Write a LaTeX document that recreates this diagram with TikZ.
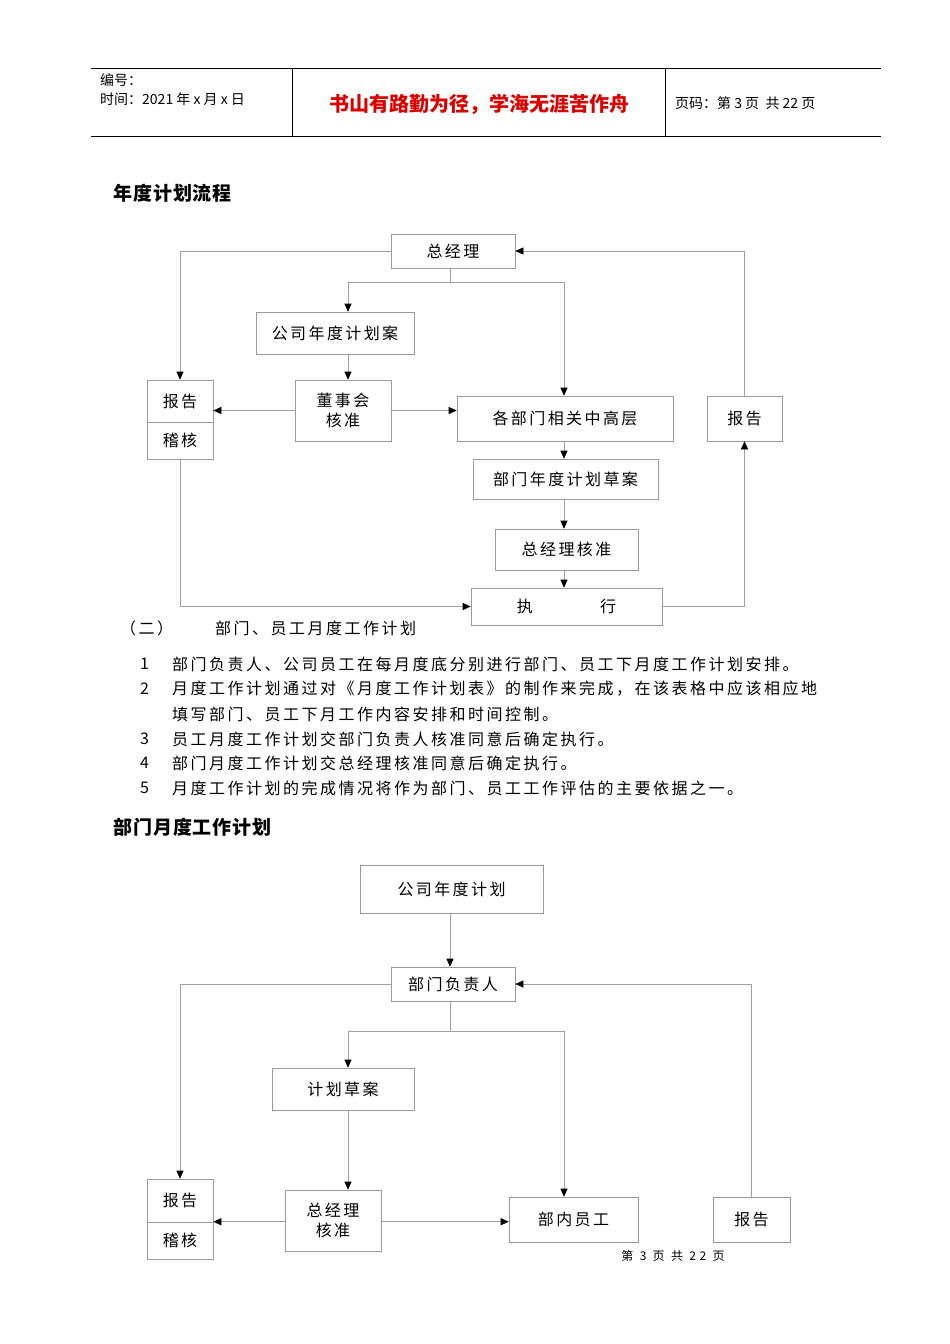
\documentclass[tikz,border=0pt]{standalone}
\usepackage{fontspec}
\setmainfont{Noto Sans CJK SC}
\usetikzlibrary{arrows.meta,calc}
\newcommand{\bx}[6]{\node[bx,minimum width={(#4-#2)*1pt},minimum height={(#5-#3)*1pt}] (#1) at ({(#2+#4)/2},{(#3+#5)/2}) {#6};}
\begin{document}
\begin{tikzpicture}[x=1pt,y=-1pt,
  bx/.style={draw=gray!80,line width=0.6pt,inner sep=0pt,align=center,font=\fontsize{16}{20}\selectfont\addfontfeature{LetterSpace=15}},
  ln/.style={draw=gray!75,line width=0.6pt},
  ar/.style={ln,-{Triangle[length=8pt,width=7pt,fill=black,color=black]}},
  tx/.style={anchor=west,inner sep=0pt,font=\fontsize{16}{18}\selectfont\addfontfeature{LetterSpace=15.6}}]
\useasboundingbox[fill=white] (0,0) rectangle (950,1344);
% header
\draw[line width=0.6pt] (91,68) -- (881,68) (91,136) -- (881,136) (292,68) -- (292,136) (665,68) -- (665,136);
\node[tx,font=\fontsize{14}{15}\selectfont] (h1) at (100,80) {编号：};
\node[tx,font=\fontsize{14}{15}\selectfont] (h2) at (100,99) {时间：2021 年 x 月 x 日};
\node[inner sep=0pt,text=red!85!black,font=\bfseries\fontsize{20}{22}\selectfont] (h3) at (479,104) {书山有路勤为径，学海无涯苦作舟};
\node[tx,font=\fontsize{14}{15}\selectfont] (h4) at (675,103) {页码：第 3 页\ \ 共 22 页};
% title 1
\node[tx,font=\bfseries\fontsize{19}{20}\selectfont\addfontfeature{LetterSpace=5}] (t1) at (113,193) {年度计划流程};
\bx{zjl}{391}{234}{515}{268}{总经理}
\bx{gs}{256}{312}{414}{354}{公司年度计划案}
\bx{bg}{147}{380}{213}{422}{报告}
\bx{jh}{147}{422}{213}{459}{稽核}
\bx{dsh}{295}{380}{391}{441}{董事会\\核准}
\bx{gbm}{457}{396}{673}{441}{各部门相关中高层}
\bx{bgr}{707}{396}{782}{441}{报告}
\bx{ca}{473}{459}{658}{499}{部门年度计划草案}
\bx{hz}{495}{529}{638}{570}{总经理核准}
\bx{zx}{471}{588}{662}{625}{执\hspace{4.2em}行}
\coordinate (s1) at (450,282);
\coordinate (xa) at (348,0);
\coordinate (xb) at (564,0);
\draw[ln] (s1|-zjl.south) -- (s1);
\draw[ar] (s1) -| (xa|-gs.north);
\draw[ar] (s1) -| (xb|-gbm.north);
\draw[ar] (zjl.west) -| (bg.north);
\draw[ar] (xa|-gs.south) -- (xa|-dsh.north);
\draw[ar] (dsh.west) -- (bg.east|-dsh.west);
\draw[ar] (dsh.east) -- (gbm.west|-dsh.east);
\draw[ar] (xb|-gbm.south) -- (xb|-ca.north);
\draw[ar] (xb|-ca.south) -- (xb|-hz.north);
\draw[ar] (xb|-hz.south) -- (xb|-zx.north);
\draw[ar] (jh.south) |- (zx.west);
\draw[ar] (zx.east) -| (bgr.south);
\draw[ar] (bgr.north) |- (zjl.east);
% text
\node[tx] (p0) at (120,628) {（二）};
\node[tx] (p0b) at (215,628) {部门、员工月度工作计划};
\foreach \n/\y/\t in {1/664/部门负责人、公司员工在每月度底分别进行部门、员工下月度工作计划安排。,
 2/689/月度工作计划通过对《月度工作计划表》的制作来完成，在该表格中应该相应地,
 3/739/员工月度工作计划交部门负责人核准同意后确定执行。,
 4/763/部门月度工作计划交总经理核准同意后确定执行。,
 5/788/月度工作计划的完成情况将作为部门、员工工作评估的主要依据之一。}
 {\node[tx] (n\n) at (140,\y) {\n}; \node[tx] (l\n) at (172,\y) {\t};}
\node[tx] (l2b) at (172,714) {填写部门、员工下月工作内容安排和时间控制。};
\node[tx,font=\bfseries\fontsize{19}{20}\selectfont\addfontfeature{LetterSpace=5}] (t2) at (113,827) {部门月度工作计划};
% diagram 2
\bx{gsn}{360}{865}{543}{913}{公司年度计划}
\bx{fzr}{391}{967}{515}{1001}{部门负责人}
\bx{jhca}{272}{1068}{414}{1110}{计划草案}
\bx{bg2}{147}{1179}{213}{1222}{报告}
\bx{jh2}{147}{1222}{213}{1259}{稽核}
\bx{hz2}{285}{1190}{381}{1251}{总经理\\核准}
\bx{bnyg}{509}{1197}{638}{1242}{部内员工}
\bx{bgr2}{713}{1197}{790}{1242}{报告}
\coordinate (s2) at (450,1031);
\draw[ar] (s2|-gsn.south) -- (s2|-fzr.north);
\draw[ln] (s2|-fzr.south) -- (s2);
\draw[ar] (s2) -| (xa|-jhca.north);
\draw[ar] (s2) -| (xb|-bnyg.north);
\draw[ar] (fzr.west) -| (bg2.north);
\draw[ar] (xa|-jhca.south) -- (xa|-hz2.north);
\draw[ar] (hz2.west|-jh2.north) -- (jh2.north east);
\draw[ar] (hz2.east|-jh2.north) -- (bnyg.west|-jh2.north);
\draw[ar] (bgr2.north) |- (fzr.east);
\node[inner sep=0pt,font=\fontsize{12}{13}\selectfont\addfontfeature{LetterSpace=30}] (ft) at (673,1256) {第 3 页 共 22 页};
\end{tikzpicture}
\end{document}
